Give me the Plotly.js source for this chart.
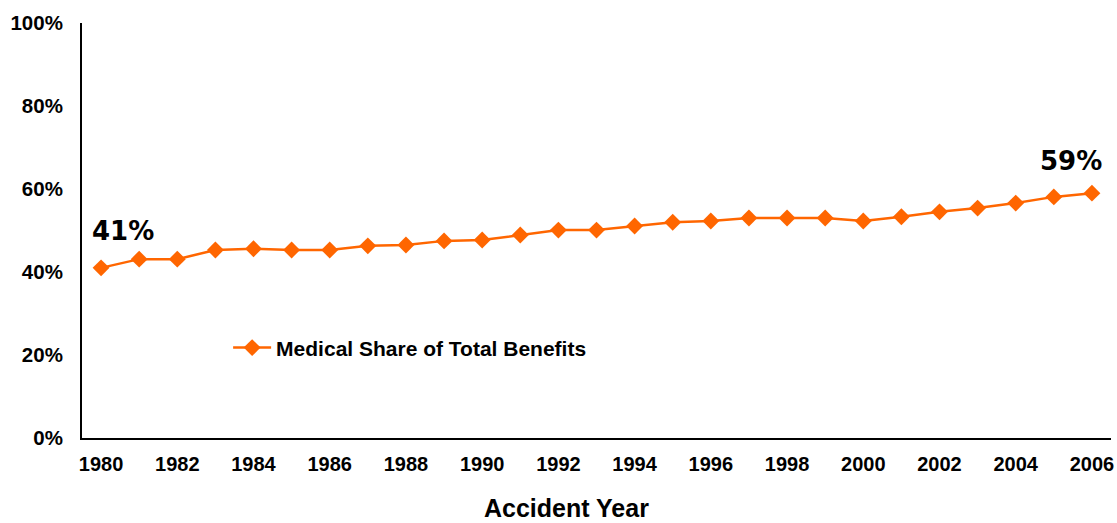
<!DOCTYPE html>
<html>
<head>
<meta charset="utf-8">
<script src="https://cdn.plot.ly/plotly-3.0.1.min.js"></script>
<style>
  html, body { margin: 0; padding: 0; background: #fff; }
  #chart { width: 1117px; height: 523px; }
</style>
</head>
<body>
<div id="chart"></div>
<script>
// Accident years and the medical share of total benefits (percent)
const years = [1980, 1981, 1982, 1983, 1984, 1985, 1986, 1987, 1988, 1989,
               1990, 1991, 1992, 1993, 1994, 1995, 1996, 1997, 1998, 1999,
               2000, 2001, 2002, 2003, 2004, 2005, 2006];
const medicalShare = [41.0, 43.1, 43.1, 45.3, 45.6, 45.3, 45.3, 46.3, 46.5, 47.5,
                      47.7, 48.9, 50.1, 50.1, 51.1, 52.0, 52.3, 53.0, 53.0, 53.0,
                      52.3, 53.3, 54.5, 55.4, 56.6, 58.1, 59.0];
const seriesName = 'Medical Share of Total Benefits';
const xTitle = 'Accident Year';
const yTicks = [0, 20, 40, 60, 80, 100];

const orange = '#FF6600';
const sans = 'Liberation Sans, Arial, sans-serif';
const bold = (size) => ({ family: sans, size: size, color: '#000', weight: 'bold' });
const callFont = { family: 'DejaVu Sans, Verdana, sans-serif', size: 26, color: '#000', weight: 'bold' };

const trace = {
  x: years,
  y: medicalShare,
  name: seriesName,
  type: 'scatter',
  mode: 'lines+markers',
  line: { color: orange, width: 2.5 },
  marker: { symbol: 'diamond', size: 13, color: orange },
  showlegend: true
};

const first = 0;
const last = years.length - 1;
const endLabel = (i) => Math.round(medicalShare[i]) + '%';

const layout = {
  width: 1117,
  height: 523,
  margin: { l: 82, r: 6, t: 23, b: 85 },
  paper_bgcolor: '#fff',
  plot_bgcolor: '#fff',
  font: bold(20),
  xaxis: {
    range: [1979.5, 2006.5],
    tick0: 1980,
    dtick: 2,
    ticks: '',
    showgrid: false,
    zeroline: false,
    showline: true,
    linecolor: '#000',
    linewidth: 2,
    ticklabelstandoff: 7,
    tickfont: bold(20),
    fixedrange: true
  },
  yaxis: {
    range: [0, 100],
    tickvals: yTicks,
    ticktext: yTicks.map(v => v + '%'),
    ticks: '',
    showgrid: false,
    zeroline: false,
    showline: true,
    linecolor: '#000',
    linewidth: 2,
    ticklabelstandoff: 13,
    tickfont: bold(20.5),
    fixedrange: true
  },
  legend: {
    x: 0.142,
    y: 0.217,
    xanchor: 'left',
    yanchor: 'middle',
    bgcolor: 'rgba(0,0,0,0)',
    font: bold(21),
    itemwidth: 38
  },
  annotations: [
    {
      x: years[first], y: medicalShare[first],
      text: endLabel(first),
      showarrow: false,
      xanchor: 'left', yanchor: 'bottom',
      xshift: -11, yshift: 20,
      font: callFont
    },
    {
      x: years[last], y: medicalShare[last],
      text: endLabel(last),
      showarrow: false,
      xanchor: 'right', yanchor: 'bottom',
      xshift: 12, yshift: 15,
      font: callFont
    },
    {
      xref: 'paper', yref: 'paper',
      x: 0.4713, y: -0.168,
      xanchor: 'center', yanchor: 'middle',
      text: xTitle,
      showarrow: false,
      font: bold(25)
    }
  ]
};

Plotly.newPlot('chart', [trace], layout, { displayModeBar: false, staticPlot: true });
</script>
</body>
</html>
